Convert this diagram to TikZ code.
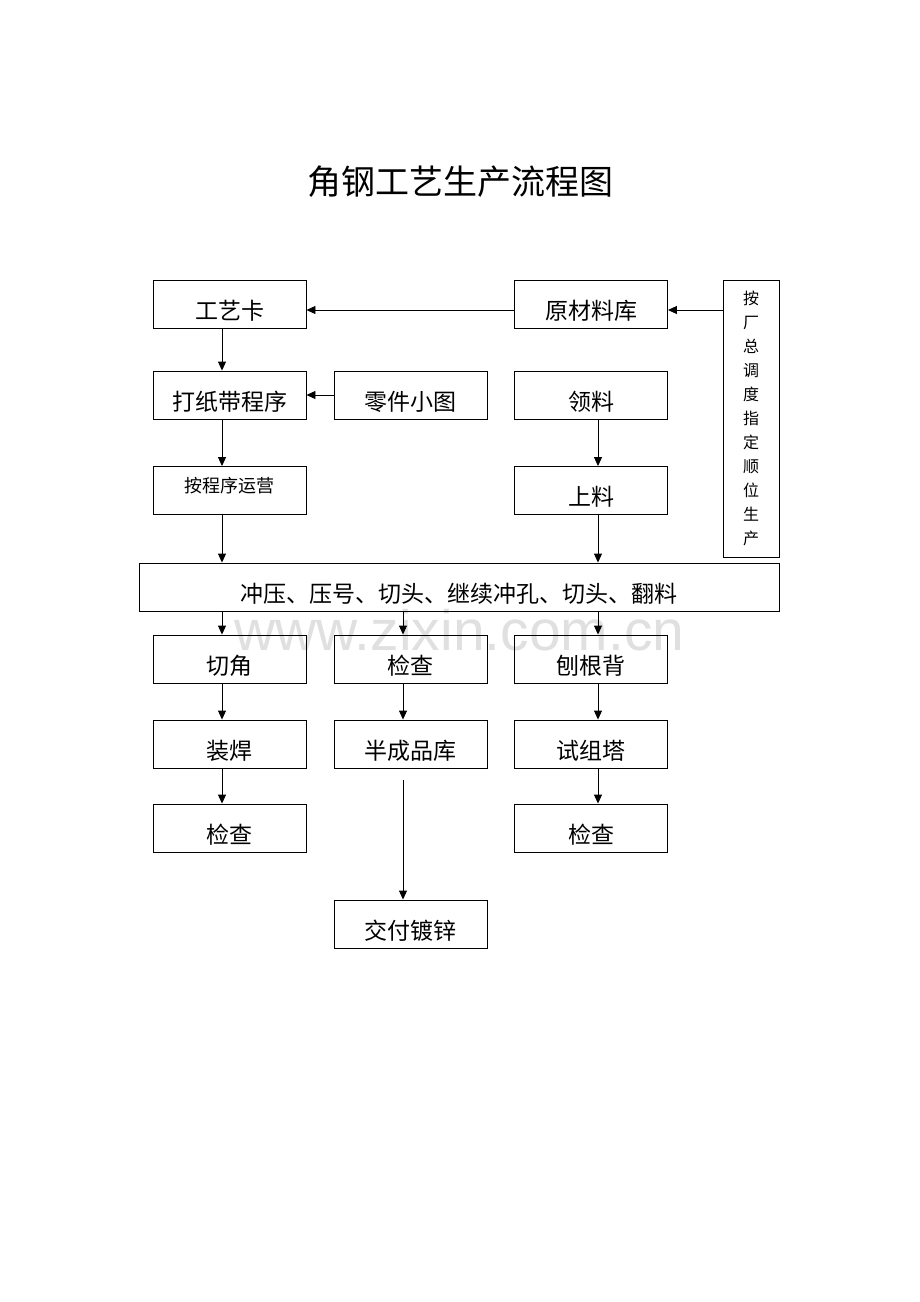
\documentclass[tikz,border=0pt]{standalone}
\usepackage{fontspec}
\usepackage{tikz}
\usetikzlibrary{arrows.meta}
\newfontfamily\cjk{Noto Sans CJK SC}
\newfontfamily\wmfont{Liberation Sans}

\begin{document}
\begin{tikzpicture}[x=1pt,y=-1pt,
	box/.style={draw,line width=0.9pt,minimum width=153pt,minimum height=48pt,inner sep=0pt,font=\cjk\fontsize{23}{23}\selectfont,text height=30pt,text depth=0pt},
	smallbox/.style={box,font=\cjk\fontsize{18}{18}\selectfont,text height=13pt,text depth=10pt},
	arr/.style={line width=0.9pt,-{Triangle[length=9pt,width=8pt]}}]
					\useasboundingbox (0,0) rectangle (920,1302);
					\node[anchor=base,text=black!12,font=\wmfont\fontsize{57}{57}\selectfont] (wm) at (459.5,650) {www.zixin.com.cn};
					\node[font=\cjk\fontsize{34}{34}\selectfont] (title) at (460,182) {角钢工艺生产流程图};
					\node[box] (gyk) at (229.5,304) {工艺卡};
					\node[box] (ycl) at (591,304) {原材料库};
					\node[draw,line width=0.9pt,minimum width=56pt,minimum height=277pt,inner sep=0pt,align=center,font=\cjk\fontsize{16}{24}\selectfont] (azd) at (751,418.5) {按\\厂\\总\\调\\度\\指\\定\\顺\\位\\生\\产};
					\node[box] (dzd) at (229.5,395) {打纸带程序};
					\node[box] (ljt) at (410.5,395) {零件小图};
					\node[box] (ll) at (591,395) {领料};
					\node[smallbox] (acx) at (229.5,490.5) {按程序运营};
					\node[box] (sl) at (591,490.5) {上料};
					\node[box,minimum width=640pt] (cy) at (459,587) {冲压、压号、切头、继续冲孔、切头、翻料};
					\node[box] (qj) at (229.5,659) {切角};
					\node[box] (jc1) at (410.5,659) {检查};
					\node[box] (bgb) at (591,659) {刨根背};
					\node[box] (zh) at (229.5,744) {装焊};
					\node[box] (bcp) at (410.5,744) {半成品库};
					\node[box] (szt) at (591,744) {试组塔};
					\node[box] (jc2) at (229.5,828) {检查};
					\node[box] (jc3) at (591,828) {检查};
					\node[box] (jf) at (410.5,924) {交付镀锌};
					\coordinate (cl) at (222,0);
					\coordinate (cm) at (403,0);
					\coordinate (cr) at (598,0);
					\coordinate (r1) at (0,310);
					\draw[arr] (ycl.west |- r1) -- (gyk.east |- r1);
					\draw[arr] (azd.west |- r1) -- (ycl.east |- r1);
					\draw[arr] (ljt.west) -- (dzd.east);
					\draw[arr] (gyk.south -| cl) -- (dzd.north -| cl);
					\draw[arr] (dzd.south -| cl) -- (acx.north -| cl);
					\draw[arr] (acx.south -| cl) -- (cy.north -| cl);
					\draw[arr] (ll.south -| cr) -- (sl.north -| cr);
					\draw[arr] (sl.south -| cr) -- (cy.north -| cr);
					\draw[arr] (cy.south -| cl) -- (qj.north -| cl);
					\draw[arr] (cy.south -| cm) -- (jc1.north -| cm);
					\draw[arr] (cy.south -| cr) -- (bgb.north -| cr);
					\draw[arr] (qj.south -| cl) -- (zh.north -| cl);
					\draw[arr] (jc1.south -| cm) -- (bcp.north -| cm);
					\draw[arr] (bgb.south -| cr) -- (szt.north -| cr);
					\draw[arr] (zh.south -| cl) -- (jc2.north -| cl);
					\draw[arr] (szt.south -| cr) -- (jc3.north -| cr);
					\draw[arr] ([yshift=-12pt]bcp.south -| cm) -- (jf.north -| cm);
				\end{tikzpicture}
\end{document}
